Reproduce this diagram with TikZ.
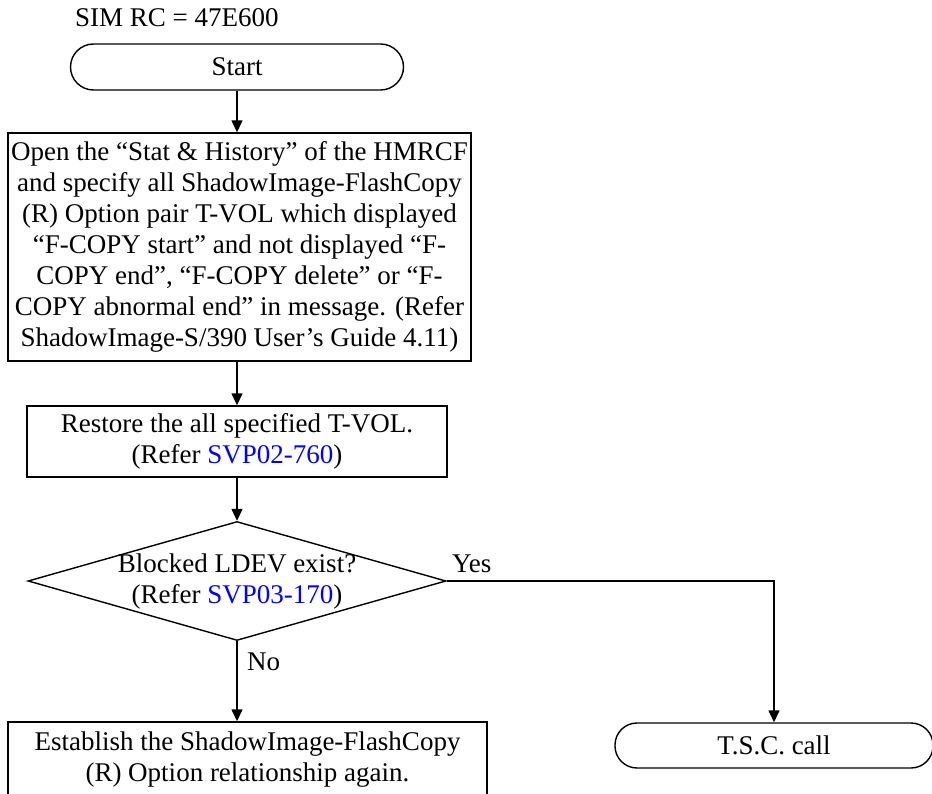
\documentclass[tikz,border=0pt]{standalone}
\usepackage{fontspec}
\setmainfont{Liberation Serif}
\usetikzlibrary{shapes.geometric,arrows.meta}
\definecolor{linkblue}{RGB}{0,0,255}
\begin{document}
\begin{tikzpicture}[x=1pt,y=-1pt,
  every node/.style={font=\fontsize{27}{31}\selectfont, inner sep=0pt},
  proc/.style={draw, line width=1.4pt, align=center},
  term/.style={draw, line width=1.4pt, align=center},
  decis/.style={draw, line width=1.4pt, diamond},
  conn/.style={line width=1.4pt, -{Triangle[length=12pt,width=11pt]}},
  lbl/.style={anchor=base west}]
\useasboundingbox (0,0) rectangle (932,794);
\clip (0,0) rectangle (932,794);
\node[lbl] (title) at (75,27) {SIM RC = 47E600};
\node[term, minimum width=333pt, minimum height=46pt, rounded corners=23pt] (start) at (237,67) {Start};
\node[proc, minimum width=463pt, minimum height=228pt] (open) at (239.5,247)
  {Open the “Stat \& History” of the HMRCF\\
   and specify all ShadowImage-FlashCopy\\
   (R) Option pair T-VOL which displayed\\
   “F-COPY start” and not displayed “F-\\
   COPY end”, “F-COPY delete” or “F-\\
   COPY abnormal end” in message. (Refer\\
   ShadowImage-S/390 User’s Guide 4.11)};
\node[proc, minimum width=420pt, minimum height=71pt] (restore) at (237,441.5)
  {Restore the all specified T-VOL.\\
   (Refer \textcolor{linkblue}{SVP02-760})};
\node[decis, minimum width=418pt, minimum height=119pt] (dec) at (237,581) {};
\node[align=center] (dectext) at (237,582)
  {Blocked LDEV exist?\\(Refer \textcolor{linkblue}{SVP03-170})};
\node[proc, minimum width=479pt, minimum height=76pt] (est) at (247.5,760)
  {Establish the ShadowImage-FlashCopy\\(R) Option relationship again.};
\node[term, minimum width=318pt, minimum height=45pt, rounded corners=22pt] (tsc) at (774,745.5) {T.S.C. call};
\node[lbl] (yes) at (452,572) {Yes};
\node[lbl] (no) at (247,670) {No};
\draw[conn] (start.south) -- (start.south |- open.north);
\draw[conn] (restore.north |- open.south) -- (restore.north);
\draw[conn] (restore.south) -- (dec.north);
\draw[conn] (dec.south) -- (dec.south |- est.north);
\draw[conn] (dec.east) -| (tsc.north);
\end{tikzpicture}
\end{document}
